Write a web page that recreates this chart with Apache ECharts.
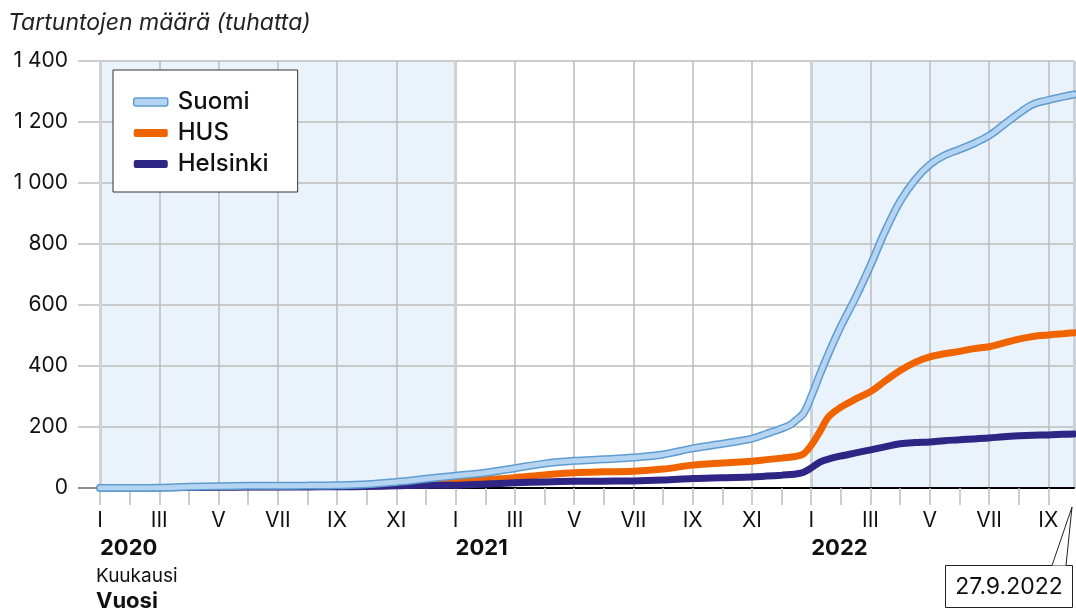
<!DOCTYPE html>
<html>
<head>
<meta charset="utf-8">
<script src="https://cdn.jsdelivr.net/npm/echarts@6/dist/echarts.min.js"></script>
<style>
  html, body { margin: 0; padding: 0; background: #fff; }
  #chart { width: 1076px; height: 613px; }
</style>
</head>
<body>
<div id="chart"></div>
<script>
// cumulative infections, thousands
const dates = [
  '2020-01-01','2020-02-01','2020-03-01','2020-04-01','2020-05-01','2020-06-01',
  '2020-07-01','2020-08-01','2020-09-01','2020-10-01','2020-11-01','2020-12-01',
  '2021-01-01','2021-02-01','2021-03-01','2021-04-01','2021-05-01','2021-06-01',
  '2021-07-01','2021-08-01','2021-09-01','2021-10-01','2021-11-01','2021-11-16',
  '2021-12-01','2021-12-10','2021-12-16','2021-12-24',
  '2022-01-01','2022-01-10','2022-01-19','2022-02-01','2022-02-15','2022-03-01',
  '2022-03-16','2022-04-01','2022-04-16','2022-05-01','2022-05-16','2022-06-01',
  '2022-06-16','2022-07-01','2022-07-16','2022-08-01','2022-08-16','2022-09-01',
  '2022-09-16','2022-09-27'
]
const suomi = [
  0, 0.2, 1, 4, 6, 7, 7.5, 8, 9, 12, 20, 30,
  40, 50, 65, 80, 89, 94, 100, 110, 130, 145, 162, 178,
  195, 207, 222, 245,
  300, 372, 440, 530, 625, 730, 840, 940, 1010, 1060, 1090, 1110,
  1130, 1155, 1190, 1228, 1258, 1272, 1283, 1290
]
const hus = [
  0, 0, 0.5, 2, 3.5, 4, 4.5, 5, 5.5, 7, 11, 15,
  20, 27, 34, 43, 50, 53, 55, 62, 75, 82, 88, 93,
  98, 101, 104, 112,
  140, 185, 233, 265, 292, 316, 350, 385, 412, 430, 440, 448,
  457, 463, 475, 488, 497, 502, 506, 509
]
const helsinki = [
  0, 0, 0.3, 1.5, 2.5, 3, 3.3, 3.5, 4, 5, 7, 9,
  9, 13, 17, 20, 22, 22.5, 23, 26, 31, 34, 36, 39,
  42, 44, 46, 52,
  66, 85, 95, 105, 115, 125, 135, 145, 149, 151, 155, 158,
  161, 164, 168, 171, 173, 174, 176, 177
]
const monthLabels = ['I','II','III','IV','V','VI','VII','VIII','IX','X','XI','XII']
const firstYear = 2020
const lastDate = '27.9.2022'

const FONT = 'Inter, Roboto, sans-serif'
const GRID_COLOR = '#bdbdbd'

// date string -> months since Jan 2020 (fractional)
const toMonth = (d) => {
  const [y, m, dd] = d.split('-').map(Number)
  const days = new Date(y, m, 0).getDate()
  return (y - firstYear) * 12 + (m - 1) + (dd - 1) / days
}
const xs = dates.map(toMonth)
const xMax = xs[xs.length - 1]
const pairs = (vals) => vals.map((v, i) => [xs[i], v])

const chart = echarts.init(document.getElementById('chart'))

// layers: 0 = year bands, 1 = grid/axes, 2 = lines, 3 = legend & texts
const lineBase = {
  type: 'line',
  showSymbol: false,
  smooth: 0.35,
  silent: true,
  zlevel: 2,
  emphasis: { disabled: true }
}

const option = {
  animation: false,
  backgroundColor: '#fff',
  textStyle: { fontFamily: FONT },
  grid: { left: 100, right: 2, top: 61, bottom: 125, containLabel: false },
  legend: {
    left: 113,
    top: 70,
    zlevel: 3,
    orient: 'vertical',
    backgroundColor: '#fff',
    borderColor: '#333',
    borderWidth: 1,
    borderRadius: 0,
    padding: [20, 29, 16, 20],
    itemGap: 7,
    itemWidth: 34,
    itemHeight: 8,
    icon: 'roundRect',
    selectedMode: false,
    textStyle: { fontSize: 24, color: '#111', fontFamily: FONT, fontWeight: 500, padding: [0, 0, 0, 5] },
    data: [
      { name: 'Suomi', itemStyle: { color: '#b4d4f1', borderColor: '#5e9ccf', borderWidth: 1.5 } },
      { name: 'HUS', itemStyle: { color: '#f06400' } },
      { name: 'Helsinki', itemStyle: { color: '#2e2585' } }
    ]
  },
  xAxis: [
    {
      type: 'value',
      min: 0,
      max: xMax,
      interval: 1,
      zlevel: 1,
      z: 3,
      axisLine: { show: true, onZero: false, lineStyle: { color: '#000', width: 2 } },
      axisTick: { show: true, length: 17, lineStyle: { color: GRID_COLOR, width: 1.5 } },
      splitLine: { show: false },
      axisLabel: {
        margin: 22,
        fontSize: 21,
        color: '#111',
        showMaxLabel: false,
        formatter: (v) => (v % 2 === 0 ? monthLabels[v % 12] : '')
      }
    },
    {
      type: 'value',
      min: 0,
      max: xMax,
      interval: 2,
      zlevel: 1,
      z: 1,
      position: 'bottom',
      axisLine: { show: false },
      axisTick: { show: false },
      splitLine: { show: true, lineStyle: { color: GRID_COLOR, width: 1.5 } },
      axisLabel: {
        margin: 49,
        fontSize: 22,
        fontWeight: 'bold',
        color: '#111',
        align: 'left',
        showMaxLabel: false,
        formatter: (v) => (v % 12 === 0 ? String(firstYear + v / 12) : '')
      }
    },
    {
      // year boundaries
      type: 'value',
      min: 0,
      max: xMax,
      interval: 12,
      zlevel: 1,
      z: 2,
      position: 'bottom',
      axisLine: { show: false },
      axisTick: { show: false },
      axisLabel: { show: false },
      splitLine: { show: true, lineStyle: { color: '#cdd1d8', width: 3 } }
    },
    {
      // 2020 and 2022 shaded
      type: 'value',
      min: 0,
      max: xMax,
      interval: 12,
      zlevel: 0,
      z: 0,
      position: 'bottom',
      axisLine: { show: false },
      axisTick: { show: false },
      axisLabel: { show: false },
      splitLine: { show: false },
      splitArea: { show: true, areaStyle: { color: ['#eaf2fc', 'rgba(255,255,255,0)'] } }
    }
  ],
  yAxis: {
    type: 'value',
    min: 0,
    max: 1400,
    interval: 200,
    zlevel: 1,
    z: 1,
    axisLine: { show: false },
    axisTick: { show: true, length: 22, lineStyle: { color: GRID_COLOR, width: 1.5 } },
    splitLine: { show: true, lineStyle: { color: GRID_COLOR, width: 1.5 } },
    axisLabel: {
      margin: 32,
      fontSize: 21,
      color: '#111',
      formatter: (v) => (v >= 1000 ? Math.floor(v / 1000) + ' ' + String(v % 1000).padStart(3, '0') : String(v))
    }
  },
  series: [
    { ...lineBase, name: 'HUS', data: pairs(hus), lineStyle: { color: '#f06400', width: 7, cap: 'round' }, itemStyle: { color: '#f06400' } },
    { ...lineBase, name: 'Helsinki', data: pairs(helsinki), lineStyle: { color: '#2e2585', width: 7, cap: 'round' }, itemStyle: { color: '#2e2585' } },
    { ...lineBase, name: 'Suomi', data: pairs(suomi), lineStyle: { color: '#5e9ccf', width: 8, cap: 'round' }, itemStyle: { color: '#b4d4f1' } },
    { ...lineBase, name: 'Suomi', data: pairs(suomi), lineStyle: { color: '#b4d4f1', width: 5, cap: 'round' }, itemStyle: { color: '#b4d4f1' } }
  ],
  graphic: {
    zlevel: 3,
    elements: [
      {
        id: 'title',
        type: 'text',
        left: 8,
        top: 12,
        style: { text: 'Tartuntojen määrä (tuhatta)', font: 'italic 23px ' + FONT, fill: '#222' }
      },
      {
        id: 'kuukausi',
        type: 'text',
        left: 96,
        top: 567,
        style: { text: 'Kuukausi', font: '19px ' + FONT, fill: '#111' }
      },
      {
        id: 'vuosi',
        type: 'text',
        left: 96,
        top: 590,
        style: { text: 'Vuosi', font: 'bold 22px ' + FONT, fill: '#111' }
      },
      {
        id: 'dateBox',
        type: 'rect',
        shape: { x: 945.5, y: 565.5, width: 127, height: 42 },
        style: { fill: '#fff', stroke: '#222', lineWidth: 1 }
      },
      {
        id: 'pointer',
        type: 'polyline',
        shape: { points: [[1052, 565.5], [1072, 507], [1066, 565.5]] },
        style: { stroke: '#222', lineWidth: 1, fill: '#fff' }
      },
      {
        id: 'dateText',
        type: 'text',
        x: 1009,
        y: 587,
        style: { text: lastDate, font: '23px ' + FONT, fill: '#111', align: 'center', verticalAlign: 'middle' }
      }
    ]
  }
}

chart.setOption(option)

// zero line reaches past the plot into the tick stub, like the original
const y0 = Math.round(chart.convertToPixel({ yAxisIndex: 0 }, 0))
chart.setOption({
  graphic: {
    elements: [{
      id: 'zeroStub',
      type: 'line',
      shape: { x1: 78, y1: y0, x2: 100, y2: y0 },
      style: { stroke: '#000', lineWidth: 2 }
    }]
  }
})

window.addEventListener('resize', () => chart.resize())
</script>
</body>
</html>
